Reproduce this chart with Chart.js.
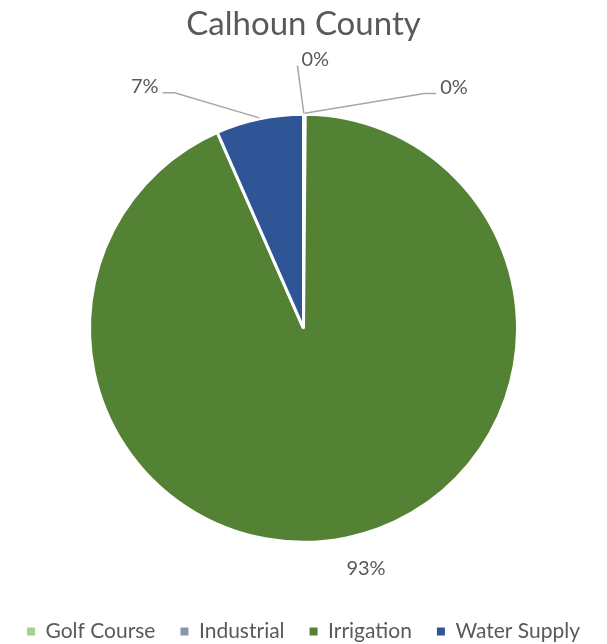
<!DOCTYPE html>
<html>
<head>
<meta charset="utf-8">
<script src="https://cdn.jsdelivr.net/npm/chart.js@4.4.0/dist/chart.umd.min.js"></script>
<style>
  html, body { margin: 0; padding: 0; background: #ffffff; overflow: hidden; }
  #wrap { width: 607px; height: 644px; }
</style>
</head>
<body>
<div id="wrap"><canvas id="pieChart" width="607" height="644"></canvas></div>
<script>
// Calhoun County - share of water use by category
const categories = ['Golf Course', 'Industrial', 'Irrigation', 'Water Supply'];
const shares = [0.05, 0.08, 93.27, 6.6];
const sliceColors = ['#a9d18e', '#8497b0', '#548235', '#2f5597'];

// where each percentage label sits: extra distance past the rim, angle (deg, clockwise from top)
const labelGap = [55, 70, 34, 75];
const labelAngle = [2.5, 32, 165.4, -33.3];
const labelElbow = [0, 12, 0, 12];
const labelLeader = [true, true, false, true];

const textColor = '#595959';
const fontFamily = 'Lato, "Open Sans", sans-serif';

// percentage labels with leader lines, drawn after the arcs
const pieLabels = {
    id: 'pieLabels',
    afterLayout(chart) {
        // push the legend row a bit lower, closer to the bottom edge
        chart.legend.top += 8;
        chart.legend.bottom += 8;
    },
    afterDatasetsDraw(chart) {
        const ctx = chart.ctx;
        const meta = chart.getDatasetMeta(0);
        const total = shares.reduce((a, b) => a + b, 0);
        ctx.save();
        ctx.font = '20px ' + fontFamily;
        ctx.textAlign = 'center';
        ctx.textBaseline = 'middle';
        meta.data.forEach((arc, i) => {
            const p = arc.getProps(['x', 'y', 'startAngle', 'endAngle', 'outerRadius'], true);
            const mid = (p.startAngle + p.endAngle) / 2;
            const la = labelAngle[i] * Math.PI / 180 - Math.PI / 2;
            const dist = p.outerRadius + labelGap[i];
            const lx = p.x + Math.cos(la) * dist;
            const ly = p.y + Math.sin(la) * dist;
            const text = Math.round(shares[i] / total * 100) + '%';
            const w = ctx.measureText(text).width;

            if (labelLeader[i]) {
                const ax = p.x + Math.cos(mid) * (p.outerRadius + 1);
                const ay = p.y + Math.sin(mid) * (p.outerRadius + 1);
                const side = lx >= ax ? -1 : 1;
                const ex = lx + side * (w / 2 + 4);
                const ey = ly + 6;
                ctx.strokeStyle = '#a6a6a6';
                ctx.lineWidth = 1.5;
                ctx.beginPath();
                ctx.moveTo(ax, ay);
                ctx.lineTo(ex + side * labelElbow[i], ey);
                ctx.lineTo(ex, ey);
                ctx.stroke();
            }
            ctx.fillStyle = textColor;
            ctx.fillText(text, lx, ly);
        });
        ctx.restore();
    }
};

const ctx = document.getElementById('pieChart').getContext('2d');
const pieChart = new Chart(ctx, {
    type: 'pie',
    data: {
        labels: categories,
        datasets: [{
            data: shares,
            backgroundColor: sliceColors,
            borderColor: '#ffffff',
            borderWidth: 3
        }]
    },
    options: {
        responsive: false,
        animation: false,
        radius: 214,
        layout: {
            padding: 0
        },
        plugins: {
            title: {
                display: true,
                text: 'Calhoun County',
                color: textColor,
                font: { family: fontFamily, size: 33, weight: 'normal' },
                padding: { top: 5, bottom: 24 }
            },
            legend: {
                display: true,
                position: 'bottom',
                labels: {
                    color: textColor,
                    font: { family: fontFamily, size: 21 },
                    boxWidth: 8,
                    boxHeight: 8,
                    padding: 25,
                    // plain filled squares, no white outline
                    generateLabels(chart) {
                        const items = Chart.controllers.pie.overrides.plugins.legend.labels.generateLabels(chart);
                        items.forEach(item => { item.lineWidth = 0; });
                        return items;
                    }
                }
            },
            tooltip: { enabled: false }
        }
    },
    plugins: [pieLabels]
});
</script>
</body>
</html>
